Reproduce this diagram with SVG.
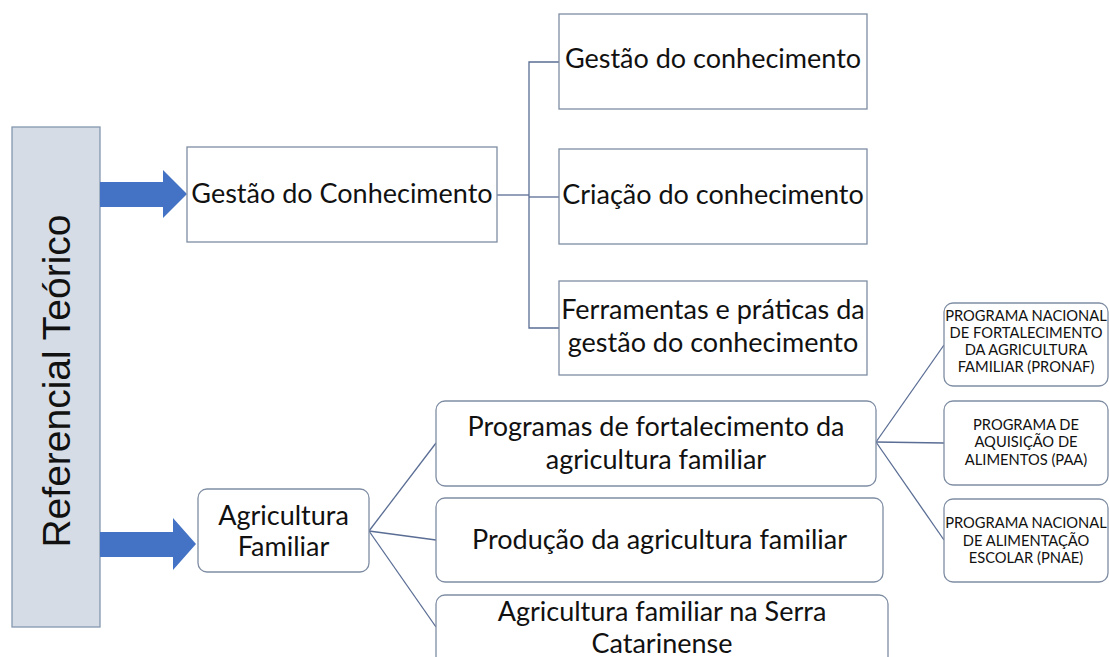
<svg xmlns="http://www.w3.org/2000/svg" width="1109" height="657" viewBox="0 0 1109 657">
<style>
.t{font-family:Lato,"Noto Sans","Liberation Sans",sans-serif;fill:#111;text-anchor:middle}
.big{font-size:27px}
.sm{font-size:14.7px}
.sq{fill:#fff;stroke:#7f8da3;stroke-width:1.3}
.rd{fill:#fff;stroke:#7f8da3;stroke-width:1.3}
.cn{fill:none;stroke:#5a6d94;stroke-width:1.3}
.ar{fill:#4472c4}
</style>
<rect width="1109" height="657" fill="#fff"/>
<g id="referencial">
<rect x="12" y="127" width="88" height="500" fill="#d6dce5" stroke="#8497b0" stroke-width="1.3"/>
<text transform="translate(70,381) rotate(-90)" text-anchor="middle" font-family="'Liberation Sans',Arial,sans-serif" font-size="39" fill="#111">Referencial Teórico</text>
</g>
<g id="arrows">
<polygon class="ar" points="100,182 163,182 163,170 187,194 163,218 163,207 100,207"/>
<polygon class="ar" points="100,532 173,532 173,518 196,544 173,570 173,557 100,557"/>
</g>
<g id="connectors">
<polyline class="cn" points="497,195 529,195"/>
<polyline class="cn" points="559,62 529,62 529,328 559,328"/>
<line class="cn" x1="529" y1="197" x2="559" y2="197"/>
<line class="cn" x1="369" y1="531" x2="436" y2="443"/>
<line class="cn" x1="369" y1="531" x2="436" y2="540"/>
<line class="cn" x1="369" y1="531" x2="436" y2="627"/>
<line class="cn" x1="876" y1="442" x2="944" y2="345"/>
<line class="cn" x1="876" y1="442" x2="944" y2="443"/>
<line class="cn" x1="876" y1="442" x2="944" y2="540"/>
</g>
<g id="gestao-conhecimento">
<rect class="sq" x="187" y="147" width="310" height="95"/>
<text class="t big" x="342" y="203">Gestão do Conhecimento</text>
</g>
<g id="gestao-do-conhecimento">
<rect class="sq" x="559" y="14" width="308" height="95"/>
<text class="t big" x="713" y="68">Gestão do conhecimento</text>
</g>
<g id="criacao">
<rect class="sq" x="559" y="149" width="308" height="95"/>
<text class="t big" x="713" y="204">Criação do conhecimento</text>
</g>
<g id="ferramentas">
<rect class="sq" x="559" y="281" width="308" height="94"/>
<text class="t big" x="713" y="319">Ferramentas e práticas da</text>
<text class="t big" x="713" y="352">gestão do conhecimento</text>
</g>
<g id="agricultura-familiar">
<rect class="rd" x="198" y="489" width="171" height="83" rx="9"/>
<text class="t big" x="283.5" y="525">Agricultura</text>
<text class="t big" x="283.5" y="556">Familiar</text>
</g>
<g id="programas">
<rect class="rd" x="436" y="401" width="440" height="85" rx="9"/>
<text class="t big" x="656" y="436">Programas de fortalecimento da</text>
<text class="t big" x="656" y="469">agricultura familiar</text>
</g>
<g id="producao">
<rect class="rd" x="436" y="498" width="447" height="84" rx="9"/>
<text class="t big" x="659.5" y="549">Produção da agricultura familiar</text>
</g>
<g id="serra">
<rect class="rd" x="436" y="595" width="452" height="90" rx="9"/>
<text class="t big" x="662" y="621">Agricultura familiar na Serra</text>
<text class="t big" x="662" y="653">Catarinense</text>
</g>
<g id="pronaf">
<rect class="rd" x="944" y="303" width="164" height="83" rx="9"/>
<text class="t sm" x="1026" y="321">PROGRAMA NACIONAL</text>
<text class="t sm" x="1026" y="338">DE FORTALECIMENTO</text>
<text class="t sm" x="1026" y="355">DA AGRICULTURA</text>
<text class="t sm" x="1026" y="372">FAMILIAR (PRONAF)</text>
</g>
<g id="paa">
<rect class="rd" x="944" y="401" width="164" height="84" rx="9"/>
<text class="t sm" x="1026" y="430">PROGRAMA DE</text>
<text class="t sm" x="1026" y="447">AQUISIÇÃO DE</text>
<text class="t sm" x="1026" y="465">ALIMENTOS (PAA)</text>
</g>
<g id="pnae">
<rect class="rd" x="944" y="499" width="164" height="83" rx="9"/>
<text class="t sm" x="1026" y="528">PROGRAMA NACIONAL</text>
<text class="t sm" x="1026" y="546">DE ALIMENTAÇÃO</text>
<text class="t sm" x="1026" y="563">ESCOLAR (PNAE)</text>
</g>
</svg>
